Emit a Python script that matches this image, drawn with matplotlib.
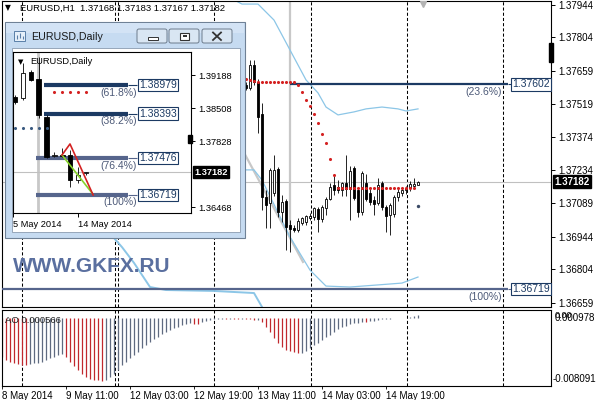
import matplotlib.pyplot as plt
from matplotlib.patches import Rectangle, FancyBboxPatch
from matplotlib.transforms import blended_transform_factory as blend

plt.rcParams['font.family'] = ['Liberation Sans', 'DejaVu Sans']

# ---- EURUSD H1, x = bar number counted from 8 May 2014 19:00 (weekend skipped)
h1_bar = list(range(61, 105))
h1_open = [1.37599, 1.37586, 1.37685, 1.37612, 1.37474, 1.37116, 1.37090, 1.37133,
           1.37236, 1.37051, 1.37099, 1.36996, 1.36983, 1.36974, 1.37004, 1.37009,
           1.37026, 1.37030, 1.37064, 1.37022, 1.37069, 1.37107, 1.37168, 1.37159,
           1.37146, 1.37176, 1.37150, 1.37241, 1.37146, 1.37051, 1.37176, 1.37133,
           1.37103, 1.37090, 1.37176, 1.37073, 1.37038, 1.37043, 1.37116, 1.37133,
           1.37146, 1.37155, 1.37165, 1.37168]
h1_high = [1.37612, 1.37707, 1.37707, 1.37625, 1.37521, 1.37146, 1.37241, 1.37297,
           1.37245, 1.37125, 1.37107, 1.37017, 1.36996, 1.37026, 1.37030, 1.37038,
           1.37047, 1.37073, 1.37073, 1.37082, 1.37116, 1.37176, 1.37206, 1.37189,
           1.37180, 1.37297, 1.37250, 1.37250, 1.37160, 1.37230, 1.37215, 1.37150,
           1.37120, 1.37200, 1.37185, 1.37080, 1.37090, 1.37125, 1.37150, 1.37160,
           1.37165, 1.37185, 1.37198, 1.37183]
h1_low = [1.37577, 1.37577, 1.37599, 1.37392, 1.37060, 1.36983, 1.36983, 1.37120,
          1.37030, 1.37009, 1.36888, 1.36879, 1.36966, 1.36966, 1.36996, 1.36996,
          1.37017, 1.37017, 1.36966, 1.37009, 1.37038, 1.37103, 1.37125, 1.37133,
          1.37120, 1.37120, 1.37017, 1.37103, 1.37030, 1.37040, 1.37100, 1.37080,
          1.37038, 1.37080, 1.37060, 1.36966, 1.36953, 1.37030, 1.37100, 1.37120,
          1.37130, 1.37140, 1.37150, 1.37167]
h1_close = [1.37586, 1.37685, 1.37612, 1.37461, 1.37116, 1.37082, 1.37232, 1.37232,
            1.37051, 1.37094, 1.36987, 1.36979, 1.36974, 1.37013, 1.37026, 1.37034,
            1.37034, 1.37069, 1.37022, 1.37073, 1.37107, 1.37159, 1.37146, 1.37146,
            1.37176, 1.37150, 1.37230, 1.37112, 1.37051, 1.37220, 1.37107, 1.37094,
            1.37086, 1.37168, 1.37073, 1.37034, 1.37082, 1.37116, 1.37138, 1.37146,
            1.37155, 1.37172, 1.37172, 1.37182]

# parabolic SAR dots
sar_bar = list(range(61, 104))
sar_val = [1.37624, 1.37621, 1.37618, 1.37613, 1.37613, 1.37613, 1.37613, 1.37613,
           1.37613, 1.37613, 1.37613, 1.37613, 1.37613, 1.37599, 1.37569, 1.37534,
           1.37509, 1.37474, 1.37435, 1.37388, 1.37349, 1.37280, 1.37211, 1.37155,
           1.37155, 1.37155, 1.37155, 1.37155, 1.37155, 1.37155, 1.37155, 1.37155,
           1.37155, 1.37155, 1.37155, 1.37155, 1.37155, 1.37155, 1.37155, 1.37155,
           1.37155, 1.37155, 1.37155]
sar_last_bar = [104]
sar_last_val = [1.37077]

# light blue envelope lines
upper_bar = [57, 60, 64, 68, 72, 76, 79, 81, 84, 88, 91, 95, 99, 101, 104]
upper_val = [1.37975, 1.37948, 1.37948, 1.37879, 1.37750, 1.37621, 1.37565, 1.37504,
             1.37470, 1.37483, 1.37496, 1.37504, 1.37496, 1.37487, 1.37496]
mid_bar = [58, 63, 65, 72, 77, 81, 87, 94, 100, 104]
mid_val = [1.37233, 1.37233, 1.37189, 1.36944, 1.36801, 1.36732, 1.36728, 1.36737,
           1.36745, 1.36771]
lower_bar = [26, 28, 30, 33, 37, 41, 53, 63, 65, 66]
lower_val = [1.37000, 1.36939, 1.36900, 1.36832, 1.36728, 1.36715, 1.36711, 1.36702,
             1.36642, 1.36600]

# drawn objects
trend_bar = [58.5, 75.25]
trend_val = [1.37371, 1.36836]
anchor_bar = 72
anchor_low = 1.36944
fib_levels = [1.37602, 1.36719]
fib_names = ['(23.6%)', '(100%)']
fib_start = [72, 0]
fib_end = 126.5
last_price = 1.37182
marker_span = (1.37698, 1.37780)

price_ticks = [1.37944, 1.37804, 1.37659, 1.37519, 1.37374, 1.37234, 1.37089,
               1.36944, 1.36804, 1.36659]
time_ticks = [0, 16, 32, 48, 64, 80, 96]
time_labels = ['8 May 2014', '9 May 11:00', '12 May 03:00', '12 May 19:00',
               '13 May 11:00', '14 May 03:00', '14 May 19:00']
day_lines = [5, 28.25, 29, 53, 77.25, 101.25, 125.25]

# Awesome Oscillator, in 1e-3
ao_vals = [-4.58, -4.97, -5.17, -5.29, -5.45, -5.57, -5.60,
           -5.45, -5.37, -5.29, -5.17, -4.97, -4.78, -4.58, -4.42, -4.30,
           -4.58, -5.17, -5.69, -6.16, -6.64, -6.96, -7.24, -7.35, -7.43, -7.55,
           -7.35, -7.04, -6.64, -6.16, -5.57, -5.17, -4.78, -4.38, -3.98, -3.59,
           -3.19, -2.79, -2.51, -2.20, -1.88, -1.60, -1.40, -1.21, -1.01, -0.85,
           -0.73, -0.61, -0.69, -0.70, -0.45, -0.29, -0.21, -0.13,
           -0.08, -0.06, -0.07, -0.04, -0.08, -0.09, -0.06, -0.10, -0.12, -0.22,
           -0.20, -0.41, -1.01, -1.60, -2.40, -2.99, -3.39, -3.78, -3.86, -3.98, -4.18,
           -4.10, -3.86, -3.59, -3.19, -2.91, -2.59, -2.28, -1.96, -1.64, -1.32,
           -1.09, -0.89, -0.73, -0.61, -0.53, -0.45, -0.47,
           -0.33, -0.29, -0.21, -0.13, -0.10, -0.06, -0.03, -0.02, -0.01, 0.0,
           0.15, 0.25, 0.38]
ao_top, ao_bottom = 0.000978, -0.008091

# ---- EURUSD Daily (inset), x = day number from 5 May 2014
d_bar = list(range(10))
d_open = [1.38735, 1.38714, 1.39250, 1.39106, 1.38323, 1.37520, 1.37540, 1.37540, 1.37025, 1.37170]
d_high = [1.38776, 1.39435, 1.39291, 1.39559, 1.38364, 1.37602, 1.37684, 1.37643, 1.37293, 1.37190]
d_low = [1.38591, 1.38673, 1.39064, 1.38302, 1.37478, 1.37499, 1.37499, 1.36881, 1.36963, 1.37128]
d_close = [1.38632, 1.39229, 1.39085, 1.38364, 1.37499, 1.37540, 1.37520, 1.37025, 1.37128, 1.37182]
d_sar_red_bar = [5, 6, 7, 8, 9]
d_sar_red_val = [1.38838, 1.38838, 1.38838, 1.38838, 1.38838]
d_sar_blue_bar = [0, 1, 2, 3, 4]
d_sar_blue_val = [1.38096, 1.38096, 1.38096, 1.38096, 1.38096]
d_red_bar = [5.96, 6.97, 9.9]
d_red_val = [1.37540, 1.37767, 1.36716]
d_green_bar = [5.96, 9.76]
d_green_val = [1.37540, 1.36757]
d_fib_levels = [1.38979, 1.38393, 1.37476, 1.36719]
d_fib_names = ['(61.8%)', '(38.2%)', '(76.4%)', '(100%)']
d_fib_start = [3.7, 3.7, 2.66, 2.66]
d_fib_end = 14.3
d_anchor = 2.9
d_price_ticks = [1.39188, 1.38508, 1.37828, 1.36468]
d_time_ticks = [-0.2, 8]
d_time_labels = ['5 May 2014', '14 May 2014']
d_marker_span = (1.37787, 1.37952)

W, H = 596, 400
NAVY = '#1c3a63'
SLATE = '#56658c'
BLUE = '#8cc6e7'
GRAY = '#c8c8c8'


def px_box(x0, y0, x1, y1):
    return [x0 / W, 1 - y1 / H, (x1 - x0) / W, (y1 - y0) / H]


def candles(ax, xs, o, h, l, c, width, lw):
    ax.vlines(xs, l, h, color='black', lw=lw, zorder=4)
    for x, op, cl in zip(xs, o, c):
        face = 'white' if cl >= op else 'black'
        ax.bar(x, max(abs(cl - op), 0.00002), bottom=min(op, cl), width=width,
               color=face, edgecolor='black', linewidth=lw, zorder=5)


fig = plt.figure(figsize=(W / 100, H / 100), dpi=100)

# ---------------- main H1 chart
ax = fig.add_axes(px_box(2, 1, 551, 307))
ax.set_xlim(0, 137.25)
ax.set_ylim(1.366418, 1.379612)
for x in day_lines:
    ax.axvline(x, color='black', lw=0.75, ls=(0, (3, 2)), zorder=1)
ax.axhline(last_price, color='#c0c0c0', lw=0.8, zorder=1)
ax.plot(trend_bar, trend_val, color=GRAY, lw=1.6, zorder=1.5)
ax.vlines(anchor_bar, anchor_low, 1.38, color=GRAY, lw=1.6, zorder=1.5)
ax.plot(upper_bar, upper_val, color=BLUE, lw=0.9, zorder=2)
ax.plot(mid_bar, mid_val, color=BLUE, lw=0.9, zorder=2)
ax.plot(lower_bar, lower_val, color=BLUE, lw=1.4, zorder=2)

for lvl, name, start, col in zip(fib_levels, fib_names, fib_start, [NAVY, SLATE]):
    ax.hlines(lvl, start, fib_end, color=col, lw=1.6, zorder=3)
    ax.hlines(lvl, fib_end, 127.2, color=col, lw=0.8, zorder=3)
    ax.annotate(name, (125, lvl), xytext=(0, -5.8), textcoords='offset points',
                ha='right', va='center', fontsize=7.5, color='#4d5a78')
    ax.text(127.6, lvl, f'{lvl:.5f}', ha='left', va='center', fontsize=7.5, color=NAVY,
            zorder=6, bbox=dict(boxstyle='square,pad=0.12', fc='white', ec=NAVY, lw=0.8))

candles(ax, h1_bar, h1_open, h1_high, h1_low, h1_close, 0.7, 0.6)
ax.scatter(sar_bar, sar_val, s=5, color='#d42222', linewidths=0, zorder=6)
ax.scatter(sar_last_bar, sar_last_val, s=6, color='#3a4a66', linewidths=0, zorder=6)

ax.yaxis.tick_right()
ax.set_yticks(price_ticks)
ax.set_yticklabels([f'{v:.5f}' for v in price_ticks])
ax.tick_params(axis='y', length=3, width=0.7, pad=2, labelsize=7, colors='black')
ax.set_xticks([])
for s in ax.spines.values():
    s.set_linewidth(0.8)
ax.annotate(f'{last_price:.5f}', (1, last_price), xycoords=('axes fraction', 'data'),
            xytext=(2.5, 0), textcoords='offset points', ha='left', va='center',
            fontsize=7, color='white', fontweight='bold',
            bbox=dict(boxstyle='square,pad=0.15', fc='black', ec='black'))
ax.add_patch(Rectangle((0.997, marker_span[0]), 0.006, marker_span[1] - marker_span[0],
                       transform=blend(ax.transAxes, ax.transData), color='black',
                       clip_on=False, zorder=7))
ax.plot([105.3], [0.99], marker='v', color='#b4b4b4', ms=5,
        transform=blend(ax.transData, ax.transAxes), zorder=7)

# ---------------- AO sub-window
ax_ao = fig.add_axes(px_box(2, 310, 551, 386))
ax_ao.set_xlim(0, 137.25)
ax_ao.set_ylim(ao_bottom, ao_top)
for x in day_lines:
    ax_ao.axvline(x, color='black', lw=0.75, ls=(0, (3, 2)), zorder=1)
prev = ao_vals[0] + 0.1
ao_cols = []
for v in ao_vals:
    ao_cols.append('#c0282e' if v < prev else '#5f6a80')
    prev = v
ax_ao.vlines(range(len(ao_vals)), 0, [v * 1e-3 for v in ao_vals], colors=ao_cols,
             lw=0.9, zorder=2)
ax_ao.set_yticks([])
ax_ao.set_xticks(time_ticks)
ax_ao.set_xticklabels(time_labels)
for lab in ax_ao.get_xticklabels():
    lab.set_ha('left')
ax_ao.tick_params(axis='x', length=2, width=0.6, pad=1.5, labelsize=7)
for s in ax_ao.spines.values():
    s.set_linewidth(0.8)
ax_ao.text(0.006, 0.86, 'AO 0.000566', transform=ax_ao.transAxes, fontsize=6.8,
           ha='left', va='center', color='#222222', zorder=5)
# the two overlapping labels at the top of the sub-window, as in MT4
ax_ao.text(1.007, 0.90, f'{ao_top:.6f}', transform=ax_ao.transAxes, fontsize=7,
           ha='left', va='center')
ax_ao.text(1.007, 0.93, '0.00', transform=ax_ao.transAxes, fontsize=6.5,
           ha='left', va='center')
ax_ao.text(1.002, 0.09, f'{ao_bottom:.6f}', transform=ax_ao.transAxes, fontsize=7,
           ha='left', va='center')

# header and watermark
fig.text(5 / W, 1 - 8 / H, '\u25bc', fontsize=5.5, va='center', ha='left',
         family='DejaVu Sans')
fig.text(20 / W, 1 - 8.5 / H, 'EURUSD,H1  1.37168 1.37183 1.37167 1.37182',
         fontsize=6.8, va='center', ha='left')
fig.text(13 / W, 1 - 266 / H, 'WWW.GKFX.RU', fontsize=15, fontweight='bold',
         color='#5a6f9f', va='center', ha='left')

# ---------------- inset window frame (pixel space)
win = fig.add_axes([0, 0, 1, 1], zorder=5)
win.set_xlim(0, W)
win.set_ylim(H, 0)
win.axis('off')
win.add_patch(Rectangle((5, 22), 240, 216, fc='#c6dbf1', ec='#6f8196', lw=0.8))
win.add_patch(Rectangle((6, 23), 238, 10, fc='#d3e3f5', ec='none'))
win.add_patch(Rectangle((12, 48), 228, 184, fc='white', ec='#8a9bb0', lw=0.6))
for bx in (137, 169, 202):
    win.add_patch(FancyBboxPatch((bx, 29), 30, 14, boxstyle='round,pad=0,rounding_size=2',
                                 fc='#d9e6f3', ec='#6c7b8c', lw=0.7))
win.add_patch(Rectangle((147.5, 37), 10, 2.5, fc='white', ec='#333333', lw=0.7))
win.add_patch(Rectangle((180, 32.5), 9, 7, fc='white', ec='#333333', lw=0.8))
win.add_patch(Rectangle((182.5, 35), 4, 2, fc='#333333', ec='none'))
win.plot([213, 221], [32.5, 40], color='#333333', lw=1.3)
win.plot([213, 221], [40, 32.5], color='#333333', lw=1.3)
win.add_patch(Rectangle((14, 31), 11, 10, fc='#e6f0fa', ec='#5a7fa8', lw=0.7))
win.vlines([17, 20, 23], [35, 33, 36], [39, 38, 39], color='#5a7fa8', lw=0.8)
win.text(31, 36.5, 'EURUSD,Daily', fontsize=7.7, color='#1a1a1a', va='center', ha='left')

# ---------------- inset daily chart
ins = fig.add_axes(px_box(13, 52, 191, 213), zorder=6)
ins.set_xlim(-0.25, 22.3)
ins.set_ylim(1.36345, 1.39662)
ins.axvline(d_anchor, color=GRAY, lw=2, zorder=1)
ins.axhline(last_price, color='#c0c0c0', lw=0.8, zorder=1)
for lvl, name, start, col in zip(d_fib_levels, d_fib_names, d_fib_start,
                                 [NAVY, NAVY, SLATE, SLATE]):
    ins.hlines(lvl, start, d_fib_end, color=col, lw=3, zorder=3)
    ins.hlines(lvl, d_fib_end, 15.5, color=col, lw=0.8, zorder=3)
    ins.annotate(name, (15.45, lvl), xytext=(0, -5.4), textcoords='offset points',
                 ha='right', va='center', fontsize=7.5, color='#4d5a78', zorder=4)
    ins.text(15.75, lvl, f'{lvl:.5f}', ha='left', va='center', fontsize=7.5, color=NAVY,
             zorder=6, bbox=dict(boxstyle='square,pad=0.12', fc='white', ec=NAVY, lw=0.8))
candles(ins, d_bar, d_open, d_high, d_low, d_close, 0.55, 0.6)
ins.plot(d_green_bar, d_green_val, color='#86d22a', lw=1.2, zorder=6)
ins.plot(d_red_bar, d_red_val, color='#d42222', lw=1.2, zorder=6)
ins.scatter(d_sar_red_bar, d_sar_red_val, s=5, color='#d42222', linewidths=0, zorder=6)
ins.scatter(d_sar_blue_bar, d_sar_blue_val, s=5, color='#3a5a80', linewidths=0, zorder=6)
ins.text(0.03, 0.94, '\u25bc', transform=ins.transAxes, fontsize=5, va='center',
         family='DejaVu Sans')
ins.text(0.095, 0.94, 'EURUSD,Daily', transform=ins.transAxes, fontsize=6.7,
         va='center', ha='left')
ins.yaxis.tick_right()
ins.set_yticks(d_price_ticks)
ins.set_yticklabels([f'{v:.5f}' for v in d_price_ticks])
ins.set_xticks(d_time_ticks)
ins.set_xticklabels(d_time_labels)
for lab in ins.get_xticklabels():
    lab.set_ha('left')
ins.tick_params(length=3, width=0.7, pad=2, labelsize=6.7)
for s in ins.spines.values():
    s.set_linewidth(0.8)
ins.annotate(f'{last_price:.5f}', (1, last_price), xycoords=('axes fraction', 'data'),
             xytext=(2.5, 0), textcoords='offset points', ha='left', va='center',
             fontsize=6.7, color='white', fontweight='bold',
             bbox=dict(boxstyle='square,pad=0.15', fc='black', ec='black'))
ins.add_patch(Rectangle((0.985, d_marker_span[0]), 0.02, d_marker_span[1] - d_marker_span[0],
                        transform=blend(ins.transAxes, ins.transData), color='black',
                        clip_on=False, zorder=7))

fig.savefig('out.png', dpi=100)
